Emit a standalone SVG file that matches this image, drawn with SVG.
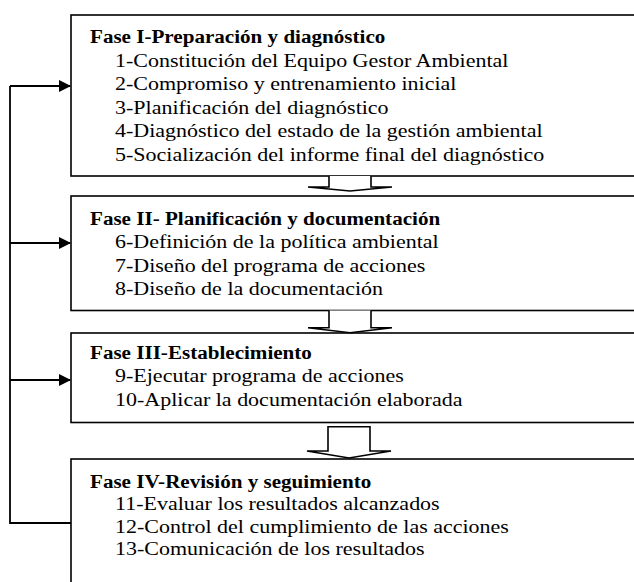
<svg xmlns="http://www.w3.org/2000/svg" width="634" height="582" viewBox="0 0 634 582">
<style>
.box{fill:#fff;stroke:#000;stroke-width:1.6}
.t{font-family:"Liberation Serif","Times New Roman",serif;font-size:19px;fill:#000}
.b{font-weight:bold}
.ln{fill:none;stroke:#000;stroke-width:1.8}
.blk{fill:#fff;stroke:#000;stroke-width:1.6;stroke-linejoin:miter}
</style>
<defs>
<marker id="ah" markerWidth="12" markerHeight="12" refX="11" refY="6" orient="auto" markerUnits="userSpaceOnUse">
<path d="M0,0 L12,6 L0,12 Z" fill="#000"/>
</marker>
</defs>
<rect width="634" height="582" fill="#fff"/>
<g id="fase1">
<rect class="box" x="71" y="15" width="580" height="161"/>
<g transform="translate(90,0) scale(1.11,1)"><text class="t b" x="0" y="43">Fase I-Preparación y diagnóstico</text></g>
<g transform="translate(115,0) scale(1.158,1)">
<text class="t" x="0" y="67">1-Constitución del Equipo Gestor Ambiental</text>
<text class="t" x="0" y="90.5">2-Compromiso y entrenamiento inicial</text>
<text class="t" x="0" y="114">3-Planificación del diagnóstico</text>
<text class="t" x="0" y="137.5">4-Diagnóstico del estado de la gestión ambiental</text>
<text class="t" x="0" y="161">5-Socialización del informe final del diagnóstico</text>
</g>
</g>
<g id="fase2">
<rect class="box" x="71" y="196" width="580" height="114.5"/>
<g transform="translate(90,0) scale(1.11,1)"><text class="t b" x="0" y="225">Fase II- Planificación y documentación</text></g>
<g transform="translate(115,0) scale(1.158,1)">
<text class="t" x="0" y="248.5">6-Definición de la política ambiental</text>
<text class="t" x="0" y="272">7-Diseño del programa de acciones</text>
<text class="t" x="0" y="295.5">8-Diseño de la documentación</text>
</g>
</g>
<g id="fase3">
<rect class="box" x="71" y="333" width="580" height="89.5"/>
<g transform="translate(90,0) scale(1.11,1)"><text class="t b" x="0" y="359">Fase III-Establecimiento</text></g>
<g transform="translate(115,0) scale(1.158,1)">
<text class="t" x="0" y="382.5">9-Ejecutar programa de acciones</text>
<text class="t" x="0" y="406">10-Aplicar la documentación elaborada</text>
</g>
</g>
<g id="fase4">
<rect class="box" x="71" y="459" width="580" height="140"/>
<g transform="translate(90,0) scale(1.11,1)"><text class="t b" x="0" y="488">Fase IV-Revisión y seguimiento</text></g>
<g transform="translate(115,0) scale(1.158,1)">
<text class="t" x="0" y="510.5">11-Evaluar los resultados alcanzados</text>
<text class="t" x="0" y="533">12-Control del cumplimiento de las acciones</text>
<text class="t" x="0" y="555.5">13-Comunicación de los resultados</text>
</g>
</g>
<g id="connectors">
<path class="blk" d="M329,176 L329,187 L308,187 L350,191 L392,187 L371,187 L371,176"/>
<path class="blk" d="M329,310.5 L329,327.7 L308,327.7 L350,332.7 L392,327.7 L371,327.7 L371,310.5"/>
<path class="blk" d="M328,426.7 L328,451 L307,451 L349,458 L391,451 L370,451 L370,426.7 Z"/>
<path class="ln" d="M71,523 L10,523 L10,86"/>
<line class="ln" x1="10" y1="86" x2="70" y2="86" marker-end="url(#ah)"/>
<line class="ln" x1="10" y1="243" x2="70" y2="243" marker-end="url(#ah)"/>
<line class="ln" x1="10" y1="380" x2="70" y2="380" marker-end="url(#ah)"/>
</g>
</svg>
